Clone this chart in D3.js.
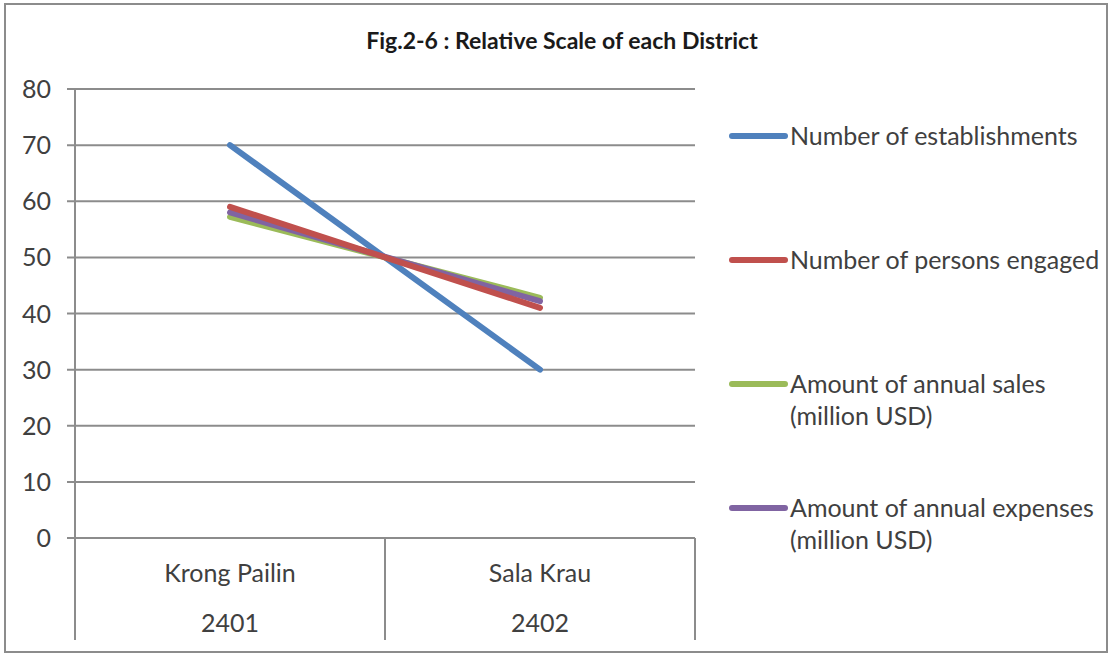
<!DOCTYPE html>
<html><head><meta charset="utf-8">
<script src="https://cdn.jsdelivr.net/npm/d3@7"></script>
<style>body{margin:0;background:#fff;} text{font-family:Lato,"Open Sans",sans-serif;fill:#404040;}</style>
</head><body><svg id="c" width="1112" height="655"></svg>
<script>
const categories = ["Krong Pailin", "Sala Krau"];
const codes = ["2401", "2402"];
const seriesNames = ["Number of establishments", "Number of persons engaged", "Amount of annual sales\n(million USD)", "Amount of annual expenses\n(million USD)"];
const establishments = [70, 30];
const persons = [59, 41];
const sales = [57.2, 42.8];
const expenses = [58, 42.2];
const yTicks = [0, 10, 20, 30, 40, 50, 60, 70, 80];
const colors = ["#4F81BD", "#C0504D", "#9BBB59", "#8064A2"];
const seriesValues = [establishments, persons, sales, expenses];

const svg = d3.select("#c");
svg.append("rect").attr("x", 5).attr("y", 4).attr("width", 1102).attr("height", 648)
  .attr("fill", "#fff").attr("stroke", "#8c8c8c").attr("stroke-width", 2);

svg.append("text").attr("x", 562).attr("y", 49).attr("text-anchor", "middle")
  .style("font-weight", "bold").style("font-size", "23px").style("fill", "#1a1a1a")
  .text("Fig.2-6 : Relative Scale of each District");

const L = 75, R = 695, T = 89, B = 538;
const x = d3.scaleBand().domain(categories).range([L, R]);
const y = d3.scaleLinear().domain([0, 80]).range([B, T]);

svg.append("g").selectAll("line").data(yTicks).join("line")
  .attr("x1", L - 8).attr("x2", R).attr("y1", d => y(d)).attr("y2", d => y(d))
  .attr("stroke", "#8c8c8c").attr("stroke-width", 2);
svg.append("line").attr("x1", L).attr("x2", L).attr("y1", T).attr("y2", B).attr("stroke", "#8c8c8c").attr("stroke-width", 2);
svg.append("g").selectAll("text").data(yTicks).join("text")
  .attr("x", 51).attr("y", d => y(d) + 9).attr("text-anchor", "end").style("font-size", "25px").text(d => d);

const bounds = [L, ...categories.map(c => x(c) + x.bandwidth())];
svg.append("g").selectAll("line").data(bounds).join("line")
  .attr("x1", d => d).attr("x2", d => d).attr("y1", B).attr("y2", 640)
  .attr("stroke", "#8c8c8c").attr("stroke-width", 2);
svg.append("g").selectAll("text").data(categories).join("text")
  .attr("x", d => x(d) + x.bandwidth() / 2).attr("y", 582).attr("text-anchor", "middle").style("font-size", "25px").text(d => d);
svg.append("g").selectAll("text").data(codes).join("text")
  .attr("x", (d, i) => x(categories[i]) + x.bandwidth() / 2).attr("y", 632).attr("text-anchor", "middle").style("font-size", "25px").text(d => d);

const line = d3.line().x((d, i) => x(categories[i]) + x.bandwidth() / 2).y(d => y(d));
const order = [0, 2, 3, 1];
svg.append("g").selectAll("path").data(order).join("path")
  .attr("d", i => line(seriesValues[i])).attr("fill", "none")
  .attr("stroke", i => colors[i]).attr("stroke-width", 6).attr("stroke-linecap", "round");

const legY = [136, 260, 384, 508];
const lg = svg.append("g");
seriesNames.forEach((n, i) => {
  lg.append("line").attr("x1", 732).attr("x2", 785).attr("y1", legY[i]).attr("y2", legY[i])
    .attr("stroke", colors[i]).attr("stroke-width", 6).attr("stroke-linecap", "round");
  const t = lg.append("text").attr("x", 790).attr("y", legY[i] + 9).style("font-size", "25px");
  n.split("\n").forEach((s, k) => t.append("tspan").attr("x", 790).attr("dy", k === 0 ? 0 : 32).text(s));
});
</script></body></html>
